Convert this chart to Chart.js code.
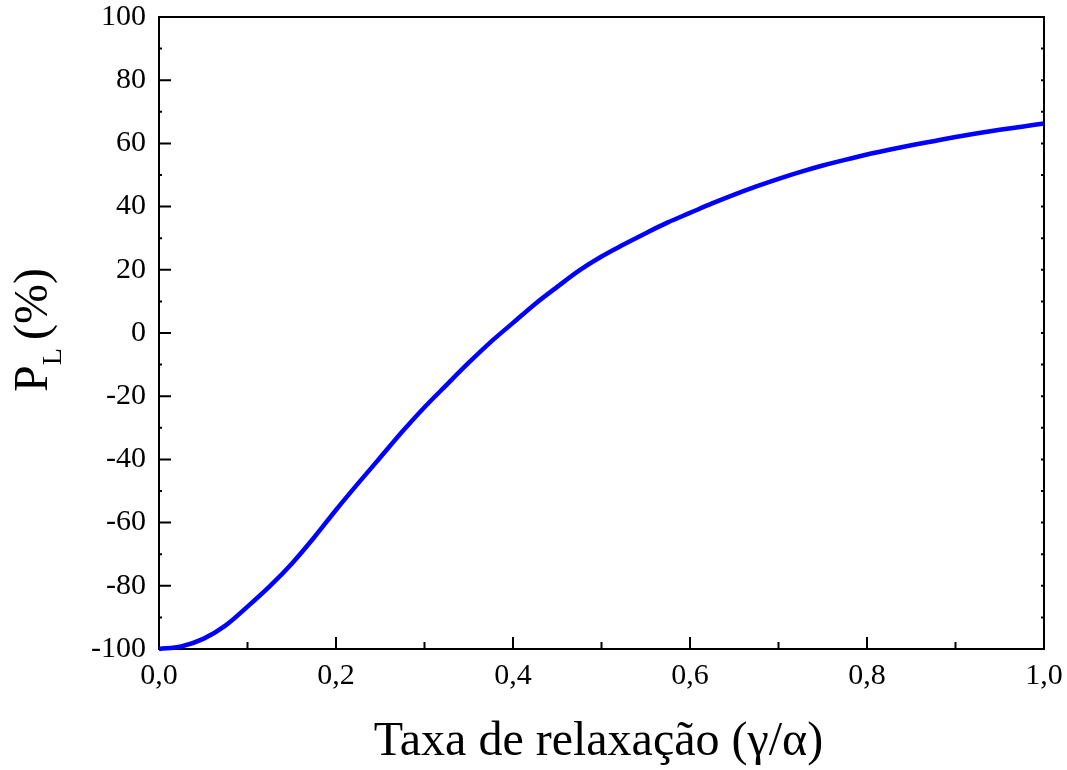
<!DOCTYPE html>
<html>
<head>
<meta charset="utf-8">
<script src="https://cdn.jsdelivr.net/npm/chart.js@4.4.1/dist/chart.umd.min.js"></script>
<style>
  body { margin: 0; background: #fff; }
  #wrap { width: 1067px; height: 770px; }
</style>
</head>
<body>
<div id="wrap"><canvas id="plChart" width="1067" height="770"></canvas></div>
<script>
// taxa de relaxacao (gamma/alpha)
const relaxRate = [
  0, 0.025, 0.05, 0.075, 0.1, 0.125, 0.15, 0.175, 0.2, 0.225,
  0.25, 0.275, 0.3, 0.325, 0.35, 0.375, 0.4, 0.425, 0.45, 0.475,
  0.5, 0.525, 0.55, 0.575, 0.6, 0.625, 0.65, 0.675, 0.7, 0.725,
  0.75, 0.775, 0.8, 0.825, 0.85, 0.875, 0.9, 0.925, 0.95, 0.975, 1.0
];
// P_L (%)
const polarization = [
  -100, -99.2, -96.8, -92.6, -86.6, -80.2, -73.0, -64.8, -56.0, -47.6,
  -39.4, -31.2, -23.5, -16.4, -9.4, -2.8, 3.2, 9.2, 14.6, 19.8,
  24.2, 28.0, 31.6, 35.0, 38.0, 41.0, 43.8, 46.4, 48.8, 51.0,
  53.0, 54.8, 56.5, 58.0, 59.4, 60.7, 62.0, 63.2, 64.3, 65.3, 66.3
];
const xTickValues = [0, 0.2, 0.4, 0.6, 0.8, 1.0];
const yTickValues = [-100, -80, -60, -40, -20, 0, 20, 40, 60, 80, 100];

const xTitle = 'Taxa de relaxação (γ/α)';
const yTitle = ['P', 'L', '(%)'];

const serif = '"Liberation Serif", "Times New Roman", serif';

// frame with inward ticks, like the original plot
const framePlugin = {
  id: 'frame',
  beforeDatasetsDraw(chart) {
    const { ctx, chartArea: a, scales: { x, y } } = chart;
    ctx.save();
    ctx.strokeStyle = '#000';
    ctx.lineWidth = 2;
    ctx.strokeRect(a.left, a.top, a.right - a.left, a.bottom - a.top);
    ctx.beginPath();
    xTickValues.forEach((v, i) => {
      const px = x.getPixelForValue(v);
      ctx.moveTo(px, a.bottom);
      ctx.lineTo(px, a.bottom - 12);
      if (i < xTickValues.length - 1) {
        const mx = x.getPixelForValue((v + xTickValues[i + 1]) / 2);
        ctx.moveTo(mx, a.bottom);
        ctx.lineTo(mx, a.bottom - 7);
      }
    });
    yTickValues.forEach((v, i) => {
      const py = y.getPixelForValue(v);
      ctx.moveTo(a.left, py);
      ctx.lineTo(a.left + 12, py);
      ctx.moveTo(a.right, py);
      ctx.lineTo(a.right - 3, py);
      if (i < yTickValues.length - 1) {
        const my = y.getPixelForValue((v + yTickValues[i + 1]) / 2);
        ctx.moveTo(a.left, my);
        ctx.lineTo(a.left + 3, my);
        ctx.moveTo(a.right, my);
        ctx.lineTo(a.right - 3, my);
      }
    });
    ctx.stroke();
    ctx.restore();
  },
  afterDraw(chart) {
    const { ctx, chartArea: a } = chart;
    ctx.save();
    ctx.fillStyle = '#000';
    ctx.textBaseline = 'alphabetic';

    // x title
    ctx.font = '48px ' + serif;
    ctx.textAlign = 'center';
    ctx.fillText(xTitle, (a.left + a.right) / 2 - 3, a.bottom + 106);

    // y title with subscript
    ctx.textAlign = 'left';
    const big = '48px ' + serif, small = '28px ' + serif;
    ctx.font = big;
    const wP = ctx.measureText(yTitle[0]).width;
    const wRest = ctx.measureText(yTitle[2]).width;
    ctx.font = small;
    const wL = ctx.measureText(yTitle[1]).width;
    const gap = 8;
    const total = wP + wL + gap + wRest;
    ctx.translate(47, (a.top + a.bottom) / 2 - 3);
    ctx.rotate(-Math.PI / 2);
    let cx = -total / 2;
    ctx.font = big;
    ctx.fillText(yTitle[0], cx, 0);
    cx += wP;
    ctx.font = small;
    ctx.fillText(yTitle[1], cx, 14);
    cx += wL + gap;
    ctx.font = big;
    ctx.fillText(yTitle[2], cx, 0);
    ctx.restore();
  }
};

const ctx = document.getElementById('plChart').getContext('2d');

new Chart(ctx, {
  type: 'line',
  data: {
    datasets: [{
      data: relaxRate.map((v, i) => ({ x: v, y: polarization[i] })),
      borderColor: '#0000ff',
      borderWidth: 4.5,
      pointRadius: 0,
      cubicInterpolationMode: 'monotone',
      clip: false
    }]
  },
  options: {
    responsive: false,
    devicePixelRatio: 1,
    animation: false,
    layout: { padding: { top: 17, right: 23, left: 0, bottom: 0 } },
    plugins: {
      legend: { display: false },
      tooltip: { enabled: false }
    },
    scales: {
      x: {
        type: 'linear',
        min: 0,
        max: 1,
        grid: { display: false, drawTicks: false },
        border: { display: false },
        afterBuildTicks: scale => { scale.ticks = xTickValues.map(v => ({ value: v })); },
        afterFit: scale => {
          scale.height = 121;
          scale.paddingLeft = 0;
          scale.paddingRight = 0;
        },
        ticks: {
          color: '#000',
          padding: 9,
          maxRotation: 0,
          font: { family: serif, size: 30 },
          callback: v => v.toFixed(1).replace('.', ',')
        }
      },
      y: {
        min: -100,
        max: 100,
        grid: { display: false, drawTicks: false },
        border: { display: false },
        afterBuildTicks: scale => { scale.ticks = yTickValues.map(v => ({ value: v })); },
        afterFit: scale => {
          scale.width = 159;
          scale.paddingTop = 0;
          scale.paddingBottom = 0;
        },
        ticks: {
          color: '#000',
          padding: 13,
          font: { family: serif, size: 30, lineHeight: 1 },
          callback: v => String(v)
        }
      }
    }
  },
  plugins: [framePlugin]
});
</script>
</body>
</html>
